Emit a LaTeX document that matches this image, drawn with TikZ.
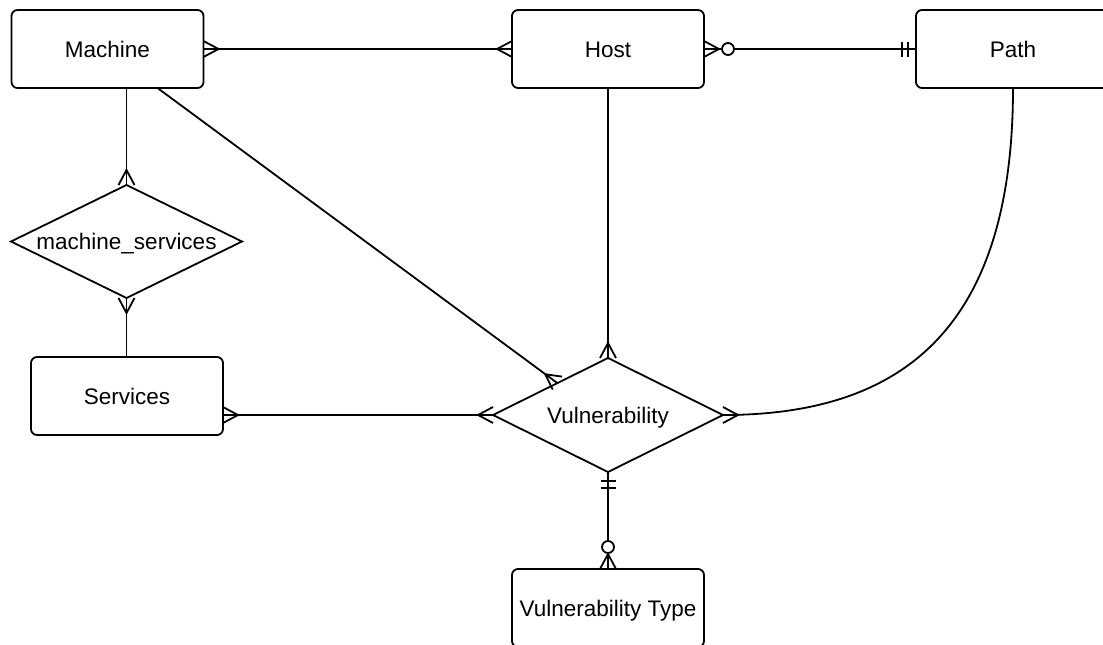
\documentclass[tikz,border=0pt]{standalone}
\usepackage{fontspec}
\setmainfont{Liberation Sans}
\usetikzlibrary{shapes.geometric,calc}
\tikzset{
  ent/.style={draw, line width=1.8pt, rounded corners=6pt, minimum width=192pt, minimum height=78pt, inner sep=0pt, outer sep=0pt, font=\fontsize{22.5}{27}\selectfont, text height=16pt, text depth=0pt},
  rel/.style={draw, diamond, line width=1.8pt, inner sep=0pt, outer sep=0pt, aspect=2},
  lbl/.style={font=\fontsize{22.5}{27}\selectfont, inner sep=0pt, text height=16pt, text depth=0pt},
  conn/.style={line width=1.8pt},
}
\newcommand\crowft[2]{\draw[conn,shift={(#1)},rotate=#2] (0,8) -- (15,0) -- (0,-8);}
\newcommand\zerocirc[3]{\draw[conn,fill=white,shift={(#1)},rotate=#2] (#3,0) circle (6);}
\newcommand\onebars[4]{\draw[conn,shift={(#1)},rotate=#2] (#3,7.5) -- (#3,-7.5) (#4,7.5) -- (#4,-7.5);}
\begin{document}
\begin{tikzpicture}[x=1pt,y=-1pt]
\useasboundingbox (0,0) rectangle (1103,645);
\fill[white] (0,0) rectangle (1103,645);
\clip (0,0) rectangle (1103,645);

% entities
\node[ent] (mach) at (107.5,49) {Machine};
\node[ent] (host) at (608,49) {Host};
\node[ent, minimum width=194pt] (path) at (1013,49) {Path};
\node[ent] (serv) at (127,396) {Services};
\node[ent] (vtype) at (608,608) {Vulnerability Type};

% relationships
\node[rel, minimum width=231pt, minimum height=113pt] (ms) at (126.5,241.5) {};
\node[lbl] (mslbl) at (ms) {machine\_services};
\node[rel, minimum width=230pt, minimum height=114pt] (vuln) at (608,415) {};
\node[lbl] (vulnlbl) at (vuln) {Vulnerability};

% connectors
\draw[conn] (mach.east) -- (host.west);
\crowft{mach.east}{0}
\crowft{host.west}{180}

\draw[conn] (host.east) -- (path.west);
\crowft{host.east}{0}
\zerocirc{host.east}{0}{24}
\onebars{path.west}{180}{8}{14}

\coordinate (msin) at (mach.south -| ms.north);
\draw[conn] (msin) -- (ms.north);
\crowft{ms.north}{90}

\coordinate (svtop) at (ms.south |- serv.north);
\draw[conn] (ms.south) -- (svtop);
\crowft{ms.south}{-90}

\coordinate (diagst) at ($(mach.south)+(50,0)$);
\coordinate (diagend) at ($(vuln.west)!0.56!(vuln.north)$);
\draw[conn] (diagst) -- (diagend);
\crowft{diagend}{144}

\draw[conn] (host.south) -- (vuln.north);
\crowft{vuln.north}{90}

\coordinate (svout) at (serv.east |- vuln.west);
\draw[conn] (svout) -- (vuln.west);
\crowft{svout}{0}
\crowft{vuln.west}{180}

\draw[conn] (path.south) .. controls ($(path.south)+(0,242)$) and ($(vuln.east)+(178,0)$) .. (vuln.east);
\crowft{vuln.east}{0}

\draw[conn] (vuln.south) -- (vtype.north);
\onebars{vuln.south}{-90}{9}{16}
\zerocirc{vtype.north}{90}{22}
\crowft{vtype.north}{90}
\end{tikzpicture}
\end{document}
